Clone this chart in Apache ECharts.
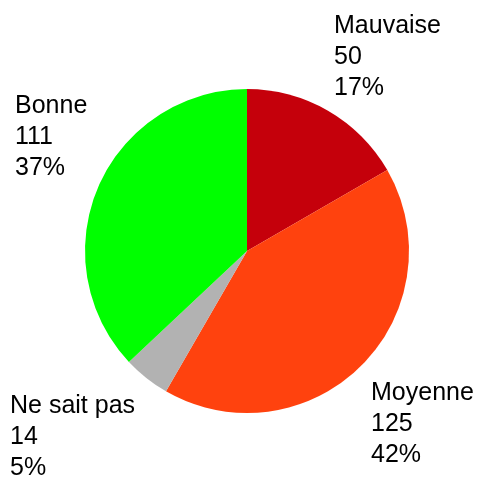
<!DOCTYPE html>
<html><head><meta charset="utf-8">
<script src="https://cdn.jsdelivr.net/npm/echarts@6/dist/echarts.min.js"></script>
<style>html,body{margin:0;padding:0;background:#fff}#c{width:481px;height:480px}</style>
</head><body><div id="c"></div>
<script>
const categories = ["Mauvaise", "Moyenne", "Ne sait pas", "Bonne"];
const values = [50, 125, 14, 111];
const percents = ["17%", "42%", "5%", "37%"];
const colors = ["#c5000b", "#ff420e", "#b2b2b2", "#00ff00"];
const labelAnchors = [[334, 11], [371, 378], [10, 391], [15, 91]];

const chart = echarts.init(document.getElementById('c'), null, {renderer: 'canvas'});
chart.setOption({
  animation: false,
  backgroundColor: '#ffffff',
  series: [{
    type: 'pie',
    center: [247, 251],
    radius: [0, 162],
    startAngle: 90,
    clockwise: true,
    avoidLabelOverlap: false,
    data: categories.map((c, i) => ({name: c, value: values[i], itemStyle: {color: colors[i]}})),
    itemStyle: {borderWidth: 0},
    label: {
      show: true,
      formatter: p => p.name + '\n' + p.value + '\n' + percents[p.dataIndex],
      fontFamily: 'Liberation Sans, Arial, sans-serif',
      fontSize: 25,
      lineHeight: 31,
      color: '#000'
    },
    labelLine: {show: false},
    labelLayout: p => ({x: labelAnchors[p.dataIndex][0], y: labelAnchors[p.dataIndex][1], align: 'left', verticalAlign: 'top'})
  }]
});
</script></body></html>
